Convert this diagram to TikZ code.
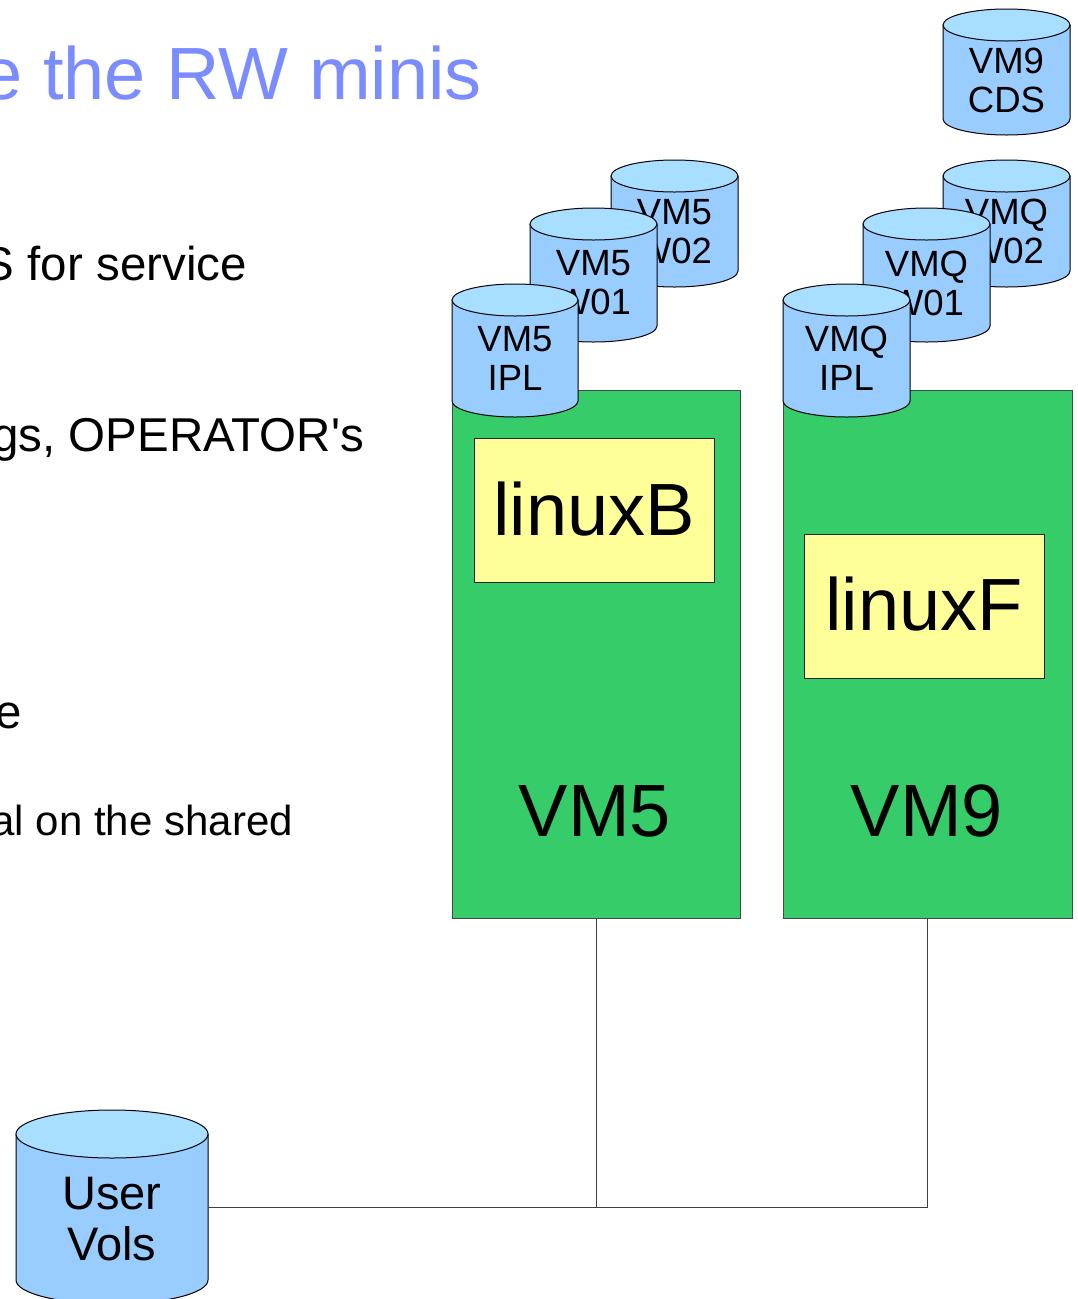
\documentclass[tikz,border=0pt]{standalone}
\usepackage{fontspec}
\setmainfont{Liberation Sans}[Ligatures=TeXOff]
\definecolor{titleblue}{RGB}{122,140,255}
\definecolor{vmgreen}{RGB}{54,204,106}
\definecolor{guestyellow}{RGB}{255,255,153}
\definecolor{diskbody}{RGB}{153,204,255}
\definecolor{disktopc}{RGB}{168,222,255}
\definecolor{edgegray}{RGB}{70,70,70}
\tikzset{
  diskside/.style={fill=diskbody,draw=black,line width=1pt},
  disktop/.style={fill=disktopc,draw=black,line width=1pt},
  diskbodynode/.style={draw=none,inner sep=0pt,rectangle},
  disklabel/.style={inner sep=0pt,align=center,text=black},
  vmbox/.style={fill=vmgreen,draw=edgegray,line width=1pt,inner sep=0pt,rectangle},
  guestbox/.style={fill=guestyellow,draw=black!85,line width=1pt,inner sep=0pt,rectangle},
  biglabel/.style={inner sep=0pt,anchor=base,font=\fontsize{74}{80}\selectfont},
  bodytext/.style={inner sep=0pt,anchor=base east,font=\fontsize{47.5}{55}\selectfont},
  subtext/.style={inner sep=0pt,anchor=base east,font=\fontsize{42}{48}\selectfont},
  wire/.style={draw=black!75,line width=1pt},
}
% #1 name, #2 left x, #3 right x, #4 top-centre y, #5 bottom-centre y, #6 y radius, #7 font size, #8 line skip, #9 text
\newcommand\diskcyl[9]{%
  \pgfmathsetmacro\dcx{(#2+#3)/2}%
  \pgfmathsetmacro\drx{(#3-#2)/2}%
  \pgfmathsetmacro\dmy{(#4+#5)/2}%
  \pgfmathsetmacro\dty{(#4+#5)/2+#6/2}%
  \pgfmathsetmacro\dwd{#3-#2}%
  \pgfmathsetmacro\dht{#5-#4}%
  \filldraw[diskside] (#2,-#4) -- (#2,-#5) arc[start angle=180,end angle=360,x radius=\drx,y radius=#6] -- (#3,-#4) -- cycle;
  \filldraw[disktop] (\dcx,-#4) ellipse[x radius=\drx,y radius=#6];
  \node[diskbodynode,minimum width=\dwd pt,minimum height=\dht pt] (#1) at (\dcx,-\dmy) {};
  \node[disklabel,font=\fontsize{#7}{#8}\selectfont] (#1-t) at (\dcx,-\dty) {#9};
}
\begin{document}
\begin{tikzpicture}[x=1pt,y=1pt]
\useasboundingbox (0,0) rectangle (1077,-1299);

% title and bullet text (cut off at the left edge)
\node[inner sep=0pt,anchor=base east,text=titleblue,font=\fontsize{74}{80}\selectfont] (title) at (482,-99) {e the RW minis};
\node[bodytext] (t1) at (247,-280) {S for service};
\node[bodytext] (t2) at (364,-451) {gs, OPERATOR's};
\node[bodytext] (t3) at (22,-728) {e};
\node[subtext] (t4) at (293,-835) {al on the shared};

% VM boxes
\node[vmbox,minimum width=288pt,minimum height=528pt] (vm5) at (596,-654) {};
\node[vmbox,minimum width=289pt,minimum height=528pt] (vm9) at (927.5,-654) {};

% guest boxes
\node[guestbox,minimum width=240pt,minimum height=144pt] (linuxB) at (594,-510) {};
\node[biglabel] (linuxB-t) at (594,-535) {linuxB};
\node[guestbox,minimum width=240pt,minimum height=144pt] (linuxF) at (924,-606) {};
\node[biglabel] (linuxF-t) at (924,-630) {linuxF};

\node[biglabel] (vm5-t) at (595,-836) {VM5};
\node[biglabel] (vm9-t) at (927,-836) {VM9};

% VM5 disks
\diskcyl{vm5w02}{611}{738}{176}{271}{16}{36.5}{39}{VM5\\W02}
\diskcyl{vm5w01}{530}{657}{224}{326}{16}{36.5}{39}{VM5\\W01}
\diskcyl{vm5ipl}{452}{578}{300}{401}{16}{36.5}{39}{VM5\\IPL}

% VM9 disks
\diskcyl{vm9cds}{943}{1070}{25}{119}{16}{36.5}{39}{VM9\\CDS}
\diskcyl{vmqw02}{943}{1070}{176}{271}{16}{36.5}{39}{VMQ\\W02}
\diskcyl{vmqw01}{863}{990}{224}{326}{16}{36.5}{39}{VMQ\\W01}
\diskcyl{vmqipl}{783}{910}{300}{401}{16}{36.5}{39}{VMQ\\IPL}

% shared user volumes
\diskcyl{uservols}{16}{208}{1134}{1280}{24}{47}{51}{User\\Vols}

% connectors
\coordinate (j9) at (vm9.south |- uservols.east);
\coordinate (j5) at (vm5.south |- uservols.east);
\draw[wire] (uservols.east) -- (j5) -- (j9);
\draw[wire] (vm5.south) -- (j5);
\draw[wire] (vm9.south) -- (j9);
\end{tikzpicture}
\end{document}
